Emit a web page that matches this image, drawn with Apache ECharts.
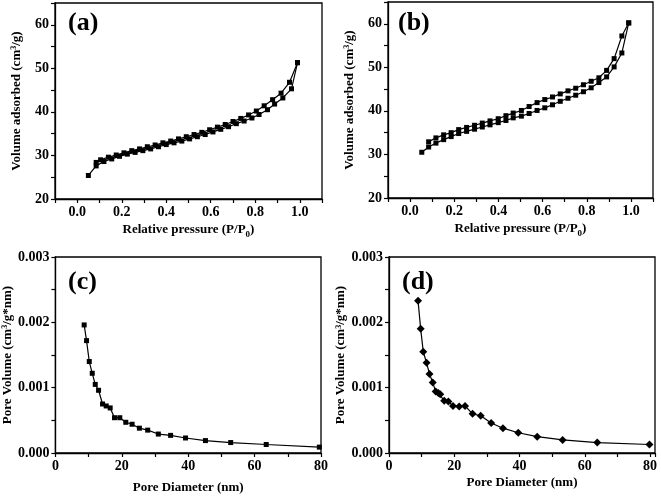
<!DOCTYPE html>
<html>
<head>
<meta charset="utf-8">
<script src="https://cdn.jsdelivr.net/npm/echarts@6/dist/echarts.min.js"></script>
<style>html,body{margin:0;padding:0;background:#fff}#c{width:661px;height:496px}</style>
</head>
<body>
<div id="c"></div>
<script>
// Panel (a): N2 isotherm
const aAdsX = [0.05,0.085,0.12,0.155,0.19,0.225,0.26,0.295,0.33,0.365,0.40,0.435,0.47,0.505,0.54,0.575,0.61,0.645,0.68,0.715,0.75,0.785,0.817,0.855,0.887,0.924,0.963,0.99];
const aAdsY = [25.4,27.6,28.6,29.2,29.8,30.3,30.7,31.1,31.5,32.0,32.5,32.9,33.3,33.8,34.3,34.8,35.4,36.0,36.6,37.3,37.9,38.6,39.4,40.5,41.8,43.2,45.3,51.3];
const aDesX = [0.99,0.954,0.916,0.878,0.84,0.805,0.77,0.735,0.70,0.665,0.63,0.595,0.56,0.525,0.49,0.455,0.42,0.385,0.35,0.315,0.28,0.245,0.21,0.175,0.14,0.105,0.085];
const aDesY = [51.3,46.8,44.3,42.8,41.4,40.2,39.3,38.5,37.8,37.1,36.5,35.9,35.3,34.8,34.3,33.8,33.3,32.9,32.4,32.0,31.5,31.1,30.6,30.1,29.6,29.0,28.4];
// Panel (b)
const bAdsX = [0.053,0.084,0.117,0.152,0.186,0.22,0.256,0.292,0.327,0.362,0.399,0.434,0.467,0.504,0.539,0.575,0.61,0.645,0.68,0.715,0.75,0.785,0.82,0.855,0.89,0.924,0.959,0.99];
const bAdsY = [30.5,31.7,32.6,33.4,34.1,34.8,35.3,35.8,36.3,36.8,37.3,37.8,38.4,38.8,39.4,40.1,40.7,41.4,42.2,42.9,43.6,44.4,45.3,46.5,47.8,50.1,53.3,60.2];
const bDesX = [0.99,0.959,0.924,0.89,0.855,0.82,0.785,0.75,0.715,0.68,0.645,0.61,0.575,0.539,0.504,0.467,0.434,0.399,0.362,0.327,0.292,0.256,0.22,0.186,0.152,0.117,0.084];
const bDesY = [60.2,57.2,52.0,49.3,47.6,46.8,46.0,45.2,44.6,43.9,43.2,42.6,41.9,41.0,40.1,39.5,38.9,38.2,37.7,37.2,36.7,36.2,35.7,35.0,34.5,33.8,32.9];
// Panel (c): pore size distribution
const cX = [8.66,9.38,10.2,11.1,12.0,13.0,14.2,15.3,16.5,17.8,19.4,21.2,23.1,25.3,27.8,31.0,34.7,39.2,45.2,52.8,63.5,79.5];
const cY = [0.00196,0.00172,0.00140,0.00122,0.00105,0.00096,0.00075,0.00072,0.00069,0.00054,0.00054,0.00047,0.00044,0.00038,0.00035,0.00029,0.00027,0.00023,0.00019,0.00016,0.00013,0.00009];
// Panel (d)
const dX = [8.9,9.7,10.5,11.5,12.4,13.4,14.3,15.1,15.7,16.9,18.2,19.6,21.5,23.3,25.6,28.1,31.3,34.9,39.6,45.4,53.2,63.8,79.8];
const dY = [0.00233,0.00190,0.00155,0.00138,0.00121,0.00108,0.00094,0.00092,0.00090,0.00080,0.00079,0.00072,0.00071,0.00072,0.00060,0.00057,0.00046,0.00038,0.00031,0.00025,0.00020,0.00016,0.00013];

const zip = (xs, ys) => xs.map((x, i) => [x, ys[i]]);
const FONT = '"Liberation Serif", "Times New Roman", serif';
const axisLine = {show: true, onZero: false, lineStyle: {color: '#000', width: 1.3}};
const axisTick = {show: true, inside: false, length: 4, lineStyle: {color: '#000', width: 1.2}};
const labelBase = {color: '#000', fontFamily: FONT, fontWeight: 'bold', fontSize: 14};
const nameStyle = {
  color: '#000', fontFamily: FONT, fontWeight: 'bold', fontSize: 13,
  rich: {
    sup: {fontFamily: FONT, fontWeight: 'bold', fontSize: 8, color: '#000', verticalAlign: 'top', lineHeight: 10},
    sub: {fontFamily: FONT, fontWeight: 'bold', fontSize: 9, color: '#000', verticalAlign: 'bottom', lineHeight: 19}
  }
};
const fmtP = v => { const r = Math.round(v * 10); return (r >= 0 && r <= 10 && r % 2 === 0) ? (r / 10).toFixed(1) : ''; };
const fmtV = v => (Math.round(v) % 10 === 0) ? String(Math.round(v)) : '';
const fmtD = v => (Math.abs(v - Math.round(v)) < 1e-6 && Math.round(v) % 20 === 0 && v <= 80) ? String(Math.round(v)) : '';
const fmtPV = v => { const r = Math.round(v * 2000); return (r % 2 === 0) ? (r / 2000).toFixed(3) : ''; };

function xP(i) {
  return {type: 'value', gridIndex: i, min: -0.1, max: 1.1, interval: 0.1,
    name: 'Relative pressure (P/P{sub|0})', nameLocation: 'middle', nameGap: 21, nameTextStyle: nameStyle,
    axisLine, axisTick, splitLine: {show: false},
    axisLabel: Object.assign({}, labelBase, {margin: 6, formatter: fmtP})};
}
function yV(i) {
  return {type: 'value', gridIndex: i, min: 20, max: 65, interval: 5,
    name: 'Volume adsorbed (cm{sup|3}/g)', nameLocation: 'middle', nameGap: 32, nameTextStyle: nameStyle,
    axisLine, axisTick, splitLine: {show: false},
    axisLabel: Object.assign({}, labelBase, {margin: 6, formatter: fmtV})};
}
function xD(i, max, gap) {
  return {type: 'value', gridIndex: i, min: 0, max: max, interval: 10,
    name: 'Pore Diameter (nm)', nameLocation: 'middle', nameGap: gap, nameTextStyle: nameStyle,
    axisLine, axisTick, splitLine: {show: false},
    axisLabel: Object.assign({}, labelBase, {margin: 6, formatter: fmtD, showMaxLabel: true})};
}
function yPV(i) {
  return {type: 'value', gridIndex: i, min: 0, max: 0.003, interval: 0.0005,
    name: 'Pore Volume (cm{sup|3}/g*nm)', nameLocation: 'middle', nameGap: 41, nameTextStyle: nameStyle,
    axisLine, axisTick, splitLine: {show: false},
    axisLabel: Object.assign({}, labelBase, {margin: 6, formatter: fmtPV})};
}
function ser(xi, data, symbol, size) {
  return {type: 'line', xAxisIndex: xi, yAxisIndex: xi, data: data,
    symbol: symbol, symbolSize: size, showSymbol: true,
    lineStyle: {color: '#000', width: 1.2}, itemStyle: {color: '#000'}, emphasis: {disabled: true},
    animation: false, clip: false};
}
const gridBase = {show: true, borderColor: '#000', borderWidth: 1.3, backgroundColor: 'transparent', containLabel: false};
const panelLabel = (txt, left, top) => ({text: txt, left: left, top: top,
  textStyle: {fontFamily: FONT, fontWeight: 'bold', fontSize: 26, color: '#000'}});

const chart = echarts.init(document.getElementById('c'), null, {renderer: 'canvas'});
chart.setOption({
  animation: false,
  backgroundColor: '#fff',
  title: [panelLabel('(a)', 63, 5), panelLabel('(b)', 393, 5), panelLabel('(c)', 63, 264), panelLabel('(d)', 397, 264)],
  grid: [
    Object.assign({left: 55, right: 339, top: 3, bottom: 297}, gridBase),
    Object.assign({left: 388, right: 8, top: 2, bottom: 298}, gridBase),
    Object.assign({left: 55, right: 340, top: 257, bottom: 43}, gridBase),
    Object.assign({left: 389, right: 6, top: 257, bottom: 43}, gridBase)
  ],
  xAxis: [xP(0), xP(1), xD(2, 80, 28), xD(3, 81.5, 23)],
  yAxis: [yV(0), yV(1), yPV(2), yPV(3)],
  series: [
    ser(0, zip(aAdsX, aAdsY), 'rect', 5),
    ser(0, zip(aDesX, aDesY), 'rect', 5),
    ser(1, zip(bAdsX, bAdsY), 'rect', 5),
    ser(1, zip(bDesX, bDesY), 'rect', 5),
    ser(2, zip(cX, cY), 'rect', 5),
    ser(3, zip(dX, dY), 'diamond', 8)
  ]
});
</script>
</body>
</html>
